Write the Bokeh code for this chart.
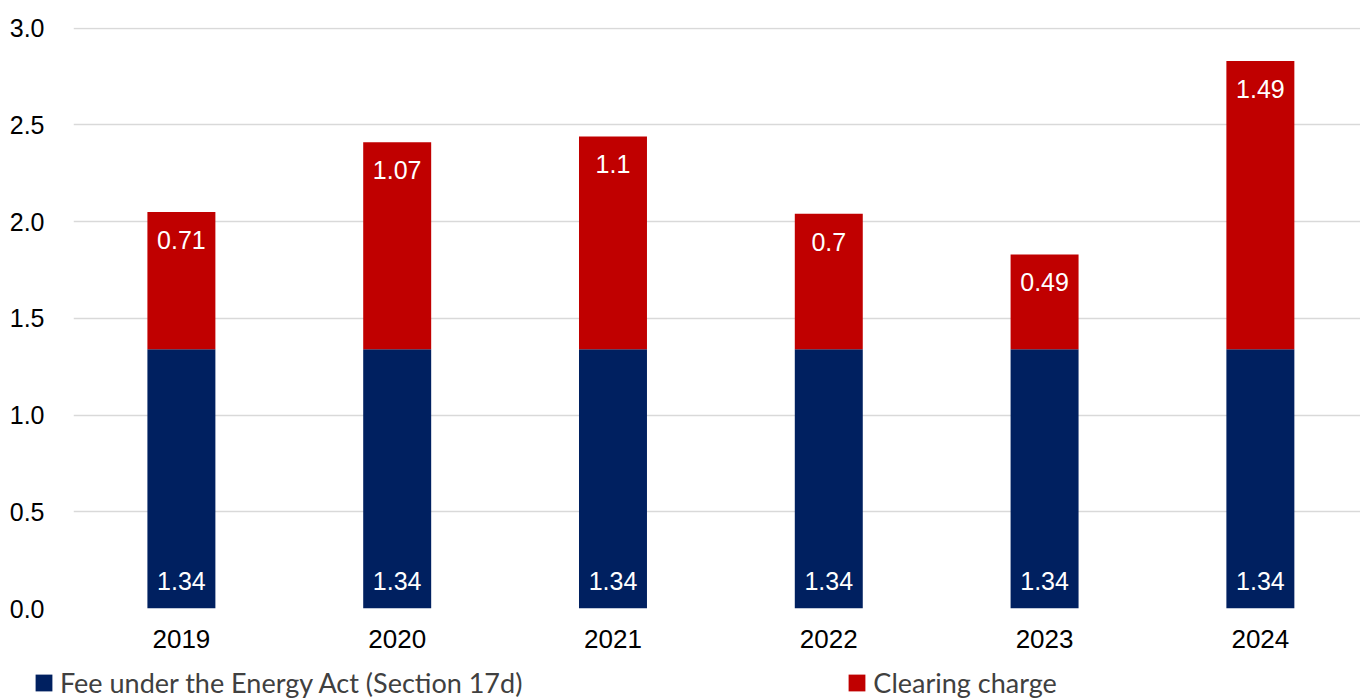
from bokeh.plotting import figure
from bokeh.layouts import column
from bokeh.models import (ColumnDataSource, Legend, LegendItem, FixedTicker,
                          Range1d)
from bokeh.core.properties import value
from bokeh.embed import file_html
from bokeh.resources import INLINE

# Data
years = ["2019", "2020", "2021", "2022", "2023", "2024"]
fee_energy_act = [1.34, 1.34, 1.34, 1.34, 1.34, 1.34]
clearing_charge = [0.71, 1.07, 1.1, 0.7, 0.49, 1.49]
y_ticks = [0.0, 0.5, 1.0, 1.5, 2.0, 2.5, 3.0]
series_names = ["Fee under the Energy Act (Section 17d)", "Clearing charge"]

BLUE = "#002060"
RED = "#C00000"
FONT = "Liberation Sans"

xs = list(range(1, len(years) + 1))
totals = [f + c for f, c in zip(fee_energy_act, clearing_charge)]
src = ColumnDataSource(dict(
    x=xs,
    fee=fee_energy_act,
    clearing=clearing_charge,
    total=totals,
    zero=[0] * len(xs),
    fee_lbl=[f"{v:g}" for v in fee_energy_act],
    clr_lbl=[f"{v:g}" for v in clearing_charge],
))

p = figure(width=1360, height=655, output_backend="svg", toolbar_location=None,
           x_range=Range1d(0.5, 6.464), y_range=Range1d(0, 3.003),
           min_border_left=73, min_border_right=0, min_border_top=27,
           min_border_bottom=47)
p.outline_line_color = None
p.background_fill_color = "white"
p.border_fill_color = "white"
p.frame_align = False

# Stacked bars
p.vbar(x="x", bottom="zero", top="fee", width=0.315, source=src,
       fill_color=BLUE, line_color=None)
p.vbar(x="x", bottom="fee", top="total", width=0.315, source=src,
       fill_color=RED, line_color=None)

# Value labels inside the bars
p.text(x="x", y="zero", text="fee_lbl", source=src, y_offset=-28,
       text_align="center", text_baseline="middle", text_color="white",
       text_font=value(FONT), text_font_size="25px")
p.text(x="x", y="total", text="clr_lbl", source=src, y_offset=28,
       text_align="center", text_baseline="middle", text_color="white",
       text_font=value(FONT), text_font_size="25px")

# Axes and grid
p.xgrid.grid_line_color = None
p.ygrid.grid_line_color = "#D9D9D9"
p.ygrid.grid_line_width = 1.3
p.yaxis.ticker = FixedTicker(ticks=y_ticks)
p.yaxis.major_label_overrides = {t: f"{t:.1f}" for t in y_ticks}
p.xaxis.ticker = FixedTicker(ticks=xs)
p.xaxis.major_label_overrides = {x: y for x, y in zip(xs, years)}

for ax in (p.xaxis[0], p.yaxis[0]):
    ax.axis_line_color = None
    ax.major_tick_line_color = None
    ax.minor_tick_line_color = None
    ax.major_label_text_font = FONT
    ax.major_label_text_font_size = "25px"
    ax.major_label_text_color = "black"
p.yaxis.major_label_standoff = 23
p.xaxis.major_label_standoff = 15
p.xaxis.major_label_text_font_size = "26px"

# Legend strip underneath the chart (zero-height swatch renderers)
leg_fig = figure(width=1360, height=44, output_backend="svg", toolbar_location=None,
                 x_range=Range1d(0, 1), y_range=Range1d(0, 1),
                 x_axis_type=None, y_axis_type=None, min_border=0)
leg_fig.outline_line_color = None
leg_fig.border_fill_color = "white"
leg_fig.grid.visible = False
leg_fig.frame_align = False
k_fee = leg_fig.vbar(x=[0.5], top=[0], bottom=[0], width=0.01,
                     fill_color=BLUE, line_color=None)
k_clr = leg_fig.vbar(x=[0.5], top=[0], bottom=[0], width=0.01,
                     fill_color=RED, line_color=None)

legend = Legend(
    items=[LegendItem(label=series_names[0], renderers=[k_fee]),
           LegendItem(label=series_names[1], renderers=[k_clr])],
    orientation="horizontal", location=(33, 0), spacing=324,
    label_standoff=6, glyph_width=21, glyph_height=21, padding=0, margin=0,
    border_line_color=None, background_fill_alpha=0,
    label_text_font="Lato", label_text_font_size="27px",
    label_text_color="#404040",
)
leg_fig.add_layout(legend, "center")

layout = column(p, leg_fig, spacing=0)
open("out.html", "w").write(file_html(layout, INLINE))
